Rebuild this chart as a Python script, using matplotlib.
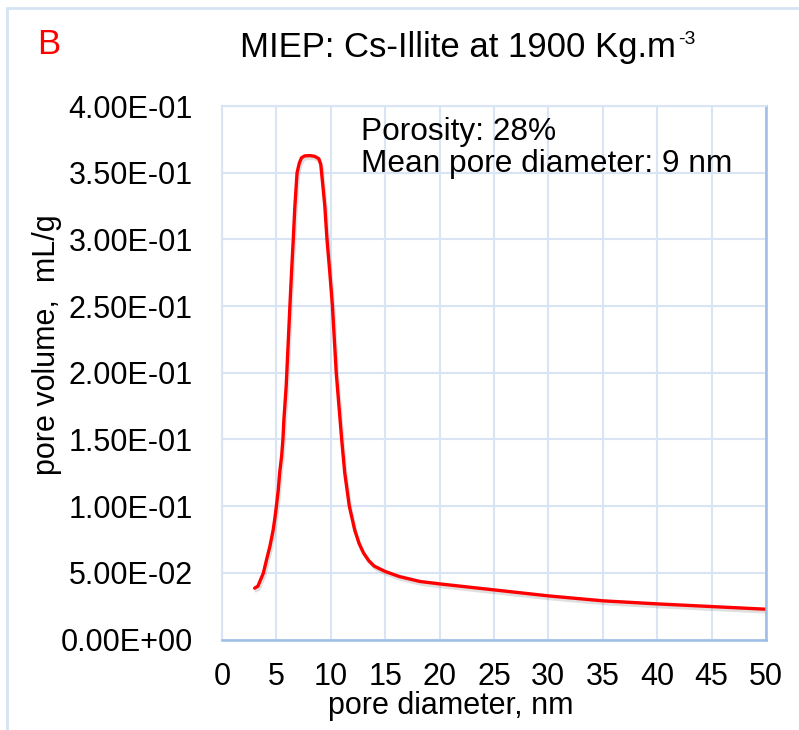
import matplotlib
matplotlib.use("Agg")
import matplotlib.pyplot as plt
import matplotlib.patheffects as pe
from matplotlib.patches import Rectangle

plt.rcParams['font.family'] = ['Liberation Sans', 'DejaVu Sans']

# pore diameter (nm) and pore volume (mL/g)
diameter = [3.0, 3.3, 3.8, 4.1, 4.4, 4.7, 4.86, 5.0, 5.17, 5.3, 5.48, 5.6, 5.69, 5.9, 6.24,
            6.39, 6.55, 6.7, 6.9, 7.1, 7.3, 7.6, 8.1, 8.5, 8.9, 9.08,
            9.25, 9.45, 9.65, 9.91, 10.15, 10.5, 10.67, 11.0, 11.28, 11.7, 12.2, 12.6,
            13.0, 13.5, 14.0, 15.0, 16.3, 18.2, 20.0,
            25.0, 30.0, 35.0, 40.0, 45.0, 50.0]
volume = [0.0385, 0.040, 0.0498, 0.060, 0.0698, 0.082, 0.091, 0.100, 0.112, 0.125, 0.1375,
          0.150, 0.165, 0.190, 0.250,
          0.275, 0.300, 0.325, 0.350, 0.357, 0.3611, 0.3626, 0.3628, 0.3623, 0.3605, 0.356,
          0.342, 0.325, 0.300, 0.275, 0.250, 0.200, 0.183, 0.150, 0.125, 0.100, 0.082, 0.072,
          0.065, 0.059, 0.055, 0.051, 0.0472, 0.0435, 0.0417,
          0.0372, 0.0327, 0.029, 0.0267, 0.0247, 0.0227]

x_ticks = list(range(0, 55, 5))
y_ticks = [0.0, 0.05, 0.10, 0.15, 0.20, 0.25, 0.30, 0.35, 0.40]
y_labels = ["0.00E+00", "5.00E-02", "1.00E-01", "1.50E-01", "2.00E-01",
            "2.50E-01", "3.00E-01", "3.50E-01", "4.00E-01"]

fig = plt.figure(figsize=(7.99, 7.30), dpi=100)
ax = fig.add_axes([222 / 799, 1 - 639.5 / 730, 544 / 799, 533.5 / 730])

# light blue chart frame
fig.patches.append(Rectangle((7 / 799, -0.1), 1.2, 1 - 8 / 730 + 0.1, transform=fig.transFigure,
                             fill=False, edgecolor="#d5e3f3", linewidth=2))

ax.plot(diameter, volume, color="#ff0000", linewidth=2.4, solid_capstyle="round",
        solid_joinstyle="round",
        path_effects=[pe.SimpleLineShadow(offset=(1, -2), shadow_color="gray", alpha=0.25),
                      pe.Normal()])

ax.set_xlim(0, 50)
ax.set_ylim(0, 0.4)
ax.set_xticks(x_ticks)
ax.set_yticks(y_ticks)
ax.set_yticklabels(y_labels)
ax.tick_params(length=0, labelsize=22)
ax.tick_params(axis="x", pad=16)
ax.tick_params(axis="y", pad=21)

ax.grid(color="#d9e5f5", linewidth=1.5)
ax.set_axisbelow(True)
for s in ["left", "top"]:
    ax.spines[s].set_color("#d9e5f5")
    ax.spines[s].set_linewidth(1.5)
for s in ["bottom", "right"]:
    ax.spines[s].set_color("#9dbde6")
    ax.spines[s].set_linewidth(1.8)

ax.set_xlabel("pore diameter, nm", fontsize=22)
ax.xaxis.set_label_coords(0.421, -0.097)
ax.set_ylabel("pore volume,  mL/g", fontsize=22)
ax.yaxis.label.set_verticalalignment("center")
ax.yaxis.set_label_coords(-0.322, 0.552)

ax.text(12.8, 0.392, "Porosity: 28%\nMean pore diameter: 9 nm", fontsize=22.8,
        va="top", ha="left", linespacing=1.08)

title = fig.text(240 / 799, 1 - 47 / 730, "MIEP: Cs-Illite at 1900 Kg.m", fontsize=25,
                 ha="left", va="center")
fig.canvas.draw()
bb = title.get_window_extent().transformed(fig.transFigure.inverted())
fig.text(bb.x1 + 2 / 799, 1 - 40 / 730, "-3", fontsize=14, ha="left", va="center")
fig.text(37 / 799, 1 - 45 / 730, "B", fontsize=25, color="#ff0000", ha="left", va="center")

fig.savefig("out.png", dpi=100)
